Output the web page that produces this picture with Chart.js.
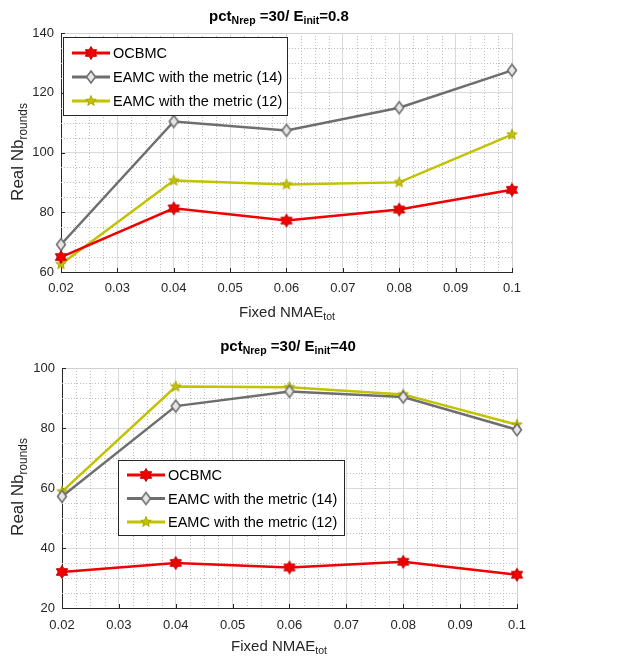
<!DOCTYPE html>
<html>
<head>
<meta charset="utf-8">
<script src="https://cdn.jsdelivr.net/npm/chart.js@4.4.1/dist/chart.umd.min.js"></script>
<style>
  body { margin: 0; background: #fff; }
  #wrap { position: relative; width: 618px; height: 663px; font-family: "Liberation Sans", Arial, sans-serif; color: #000; }
  canvas { position: absolute; left: 0; }
  .lbl { position: absolute; white-space: nowrap; transform: translate(-50%, -50%); }
  .title { font-weight: bold; font-size: 15px; }
  .axl { font-size: 15px; color: #262626; }
  .ayl { font-size: 17px; color: #262626; }
  .rot { transform: translate(-50%, -50%) rotate(-90deg); }
  sub { font-size: 70%; vertical-align: -0.35em; line-height: 0; }
</style>
</head>
<body>
<div id="wrap">
  <canvas id="topChart" width="618" height="330" style="top:0"></canvas>
  <canvas id="botChart" width="618" height="333" style="top:330px"></canvas>
  <div class="lbl title" style="left:279px; top:15px">pct<sub>Nrep</sub> =30/ E<sub>init</sub>=0.8</div>
  <div class="lbl axl" style="left:287px; top:311px">Fixed NMAE<sub>tot</sub></div>
  <div class="lbl ayl rot" style="left:18px; top:152px">Real Nb<sub>rounds</sub></div>
  <div class="lbl title" style="left:288px; top:345px">pct<sub>Nrep</sub> =30/ E<sub>init</sub>=40</div>
  <div class="lbl axl" style="left:279px; top:645px">Fixed NMAE<sub>tot</sub></div>
  <div class="lbl ayl rot" style="left:18px; top:487px">Real Nb<sub>rounds</sub></div>
</div>
<script>
// data
const xValues = [0.02, 0.04, 0.06, 0.08, 0.1];
const xTicks = [0.02, 0.03, 0.04, 0.05, 0.06, 0.07, 0.08, 0.09, 0.1];

const topOcbmc = [65.0, 81.3, 77.2, 80.9, 87.5];
const topEamc14 = [69.2, 110.4, 107.4, 115.0, 127.5];
const topEamc12 = [62.6, 90.6, 89.3, 90.0, 106.0];
const topYTicks = [60, 80, 100, 120, 140];

const botOcbmc = [32.0, 35.0, 33.5, 35.4, 31.1];
const botEamc14 = [57.2, 87.3, 92.2, 90.3, 79.4];
const botEamc12 = [58.8, 93.8, 93.6, 91.2, 81.1];
const botYTicks = [20, 40, 60, 80, 100];

const seriesNames = ['OCBMC', 'EAMC with the metric (14)', 'EAMC with the metric (12)'];
const RED = '#f00000', GRAY = '#6e6e6e', OLIVE = '#c2c200';

// marker images
function starMarker(n, outer, inner, fill, stroke) {
    const c = document.createElement('canvas');
    const s = Math.ceil(outer * 2 + 3);
    c.width = s; c.height = s;
    const g = c.getContext('2d');
    g.translate(s / 2, s / 2);
    g.beginPath();
    for (let i = 0; i < n * 2; i++) {
        const r = i % 2 === 0 ? outer : inner;
        const a = -Math.PI / 2 + i * Math.PI / n;
        g.lineTo(r * Math.cos(a), r * Math.sin(a));
    }
    g.closePath();
    g.fillStyle = fill; g.fill();
    g.strokeStyle = stroke; g.lineWidth = 1; g.stroke();
    return c;
}
function diamondMarker(r, fill, stroke) {
    const c = document.createElement('canvas');
    const s = Math.ceil(r * 2 + 4);
    c.width = s; c.height = s;
    const g = c.getContext('2d');
    g.translate(s / 2, s / 2);
    g.beginPath();
    g.moveTo(0, -r); g.lineTo(r * 0.75, 0); g.lineTo(0, r); g.lineTo(-r * 0.75, 0);
    g.closePath();
    g.fillStyle = fill; g.fill();
    g.strokeStyle = stroke; g.lineWidth = 1.6; g.stroke();
    return c;
}
const hexMark = starMarker(6, 6.5, 3.8, RED, '#c00000');
const diaMark = diamondMarker(6, '#e6e6e6', GRAY);
const penMark = starMarker(5, 5.5, 2.3, OLIVE, '#a8a800');
const markers = [hexMark, diaMark, penMark];
const colors = [RED, GRAY, OLIVE];

// minor grid, box, inward ticks
const matlabAxes = {
    id: 'matlabAxes',
    beforeDatasetsDraw(chart, args, opts) {
        const { ctx, chartArea: a, scales: { x, y } } = chart;
        ctx.save();
        ctx.strokeStyle = '#bdbdbd';
        ctx.lineWidth = 1;
        ctx.setLineDash([1, 2]);
        for (let v = x.min; v < x.max - 1e-9; v += opts.xMinor) {
            if (Math.abs(Math.round(v / 0.01) * 0.01 - v) < 1e-6) continue;
            const px = Math.round(x.getPixelForValue(v)) + 0.5;
            ctx.beginPath(); ctx.moveTo(px, a.top); ctx.lineTo(px, a.bottom); ctx.stroke();
        }
        for (let v = y.min; v < y.max; v += opts.yMinor) {
            if (v % 20 === 0) continue;
            const py = Math.round(y.getPixelForValue(v)) + 0.5;
            ctx.beginPath(); ctx.moveTo(a.left, py); ctx.lineTo(a.right, py); ctx.stroke();
        }
        ctx.setLineDash([]);
        ctx.strokeStyle = '#d0d0d0';
        ctx.beginPath();
        ctx.moveTo(a.left, a.top + 0.5); ctx.lineTo(a.right + 0.5, a.top + 0.5); ctx.lineTo(a.right + 0.5, a.bottom);
        ctx.stroke();
        ctx.strokeStyle = '#262626';
        x.ticks.forEach(t => {
            const px = Math.round(x.getPixelForValue(t.value)) + 0.5;
            ctx.beginPath(); ctx.moveTo(px, a.bottom); ctx.lineTo(px, a.bottom - 4); ctx.stroke();
        });
        y.ticks.forEach(t => {
            const py = Math.round(y.getPixelForValue(t.value)) + 0.5;
            ctx.beginPath(); ctx.moveTo(a.left, py); ctx.lineTo(a.left + 4, py); ctx.stroke();
        });
        ctx.restore();
    }
};

// boxed legend inside the axes
const boxLegend = {
    id: 'boxLegend',
    afterDraw(chart, args, opts) {
        const { ctx } = chart;
        const b = opts.box;
        ctx.save();
        ctx.fillStyle = '#fff';
        ctx.fillRect(b.x, b.y, b.w, b.h);
        ctx.strokeStyle = '#262626';
        ctx.lineWidth = 1;
        ctx.strokeRect(b.x + 0.5, b.y + 0.5, b.w, b.h);
        ctx.font = '14.5px "Liberation Sans", Arial, sans-serif';
        ctx.textBaseline = 'middle';
        chart.data.datasets.forEach((ds, i) => {
            const yy = b.y + opts.rowTop + i * opts.rowGap;
            ctx.strokeStyle = ds.borderColor;
            ctx.lineWidth = 3;
            ctx.beginPath(); ctx.moveTo(b.x + 9, yy); ctx.lineTo(b.x + 47, yy); ctx.stroke();
            const m = ds.pointStyle;
            ctx.drawImage(m, b.x + 28 - m.width / 2, yy - m.height / 2);
            ctx.fillStyle = '#000';
            ctx.fillText(ds.label, b.x + 50, yy + 1);
        });
        ctx.restore();
    }
};

function makeChart(id, values, yTicks, layout) {
    const datasets = values.map((vals, i) => ({
        label: seriesNames[i],
        data: xValues.map((xv, k) => ({ x: xv, y: vals[k] })),
        borderColor: colors[i],
        borderWidth: 2.5,
        pointStyle: markers[i],
        pointRadius: 6,
        clip: false,
        tension: 0
    }));
    return new Chart(document.getElementById(id), {
        type: 'line',
        data: { datasets },
        plugins: [matlabAxes, boxLegend],
        options: {
            responsive: false,
            animation: false,
            devicePixelRatio: 1,
            layout: { padding: { left: 0, top: layout.top, right: layout.right, bottom: 0 } },
            scales: {
                x: {
                    type: 'linear',
                    min: 0.02, max: 0.1,
                    afterBuildTicks: s => { s.ticks = xTicks.map(v => ({ value: v })); },
                    afterFit: s => { s.height = layout.xHeight; },
                    ticks: { callback: v => String(v), color: '#262626', font: { size: 13, family: '"Liberation Sans", Arial' }, padding: layout.xPad, maxRotation: 0, autoSkip: false },
                    grid: { color: '#dadada', drawTicks: false },
                    border: { color: '#262626', width: 1 }
                },
                y: {
                    min: yTicks[0], max: yTicks[yTicks.length - 1],
                    afterBuildTicks: s => { s.ticks = yTicks.map(v => ({ value: v })); },
                    afterFit: s => { s.width = layout.left; },
                    ticks: { color: '#262626', font: { size: 13, family: '"Liberation Sans", Arial' }, padding: 7 },
                    grid: { color: '#dadada', drawTicks: false },
                    border: { color: '#262626', width: 1 }
                }
            },
            plugins: {
                legend: { display: false },
                tooltip: { enabled: false },
                matlabAxes: { xMinor: 0.0025, yMinor: 5 },
                boxLegend: layout.legend
            }
        }
    });
}

makeChart('topChart', [topOcbmc, topEamc14, topEamc12], topYTicks, {
    top: 33, right: 106, left: 61, xHeight: 58, xPad: 9,
    legend: { box: { x: 63, y: 37, w: 224, h: 78 }, rowTop: 16, rowGap: 24 }
});
makeChart('botChart', [botOcbmc, botEamc14, botEamc12], botYTicks, {
    top: 38, right: 101, left: 62, xHeight: 55, xPad: 10,
    legend: { box: { x: 118, y: 130, w: 226, h: 75 }, rowTop: 15, rowGap: 23.5 }
});
</script>
</body>
</html>
